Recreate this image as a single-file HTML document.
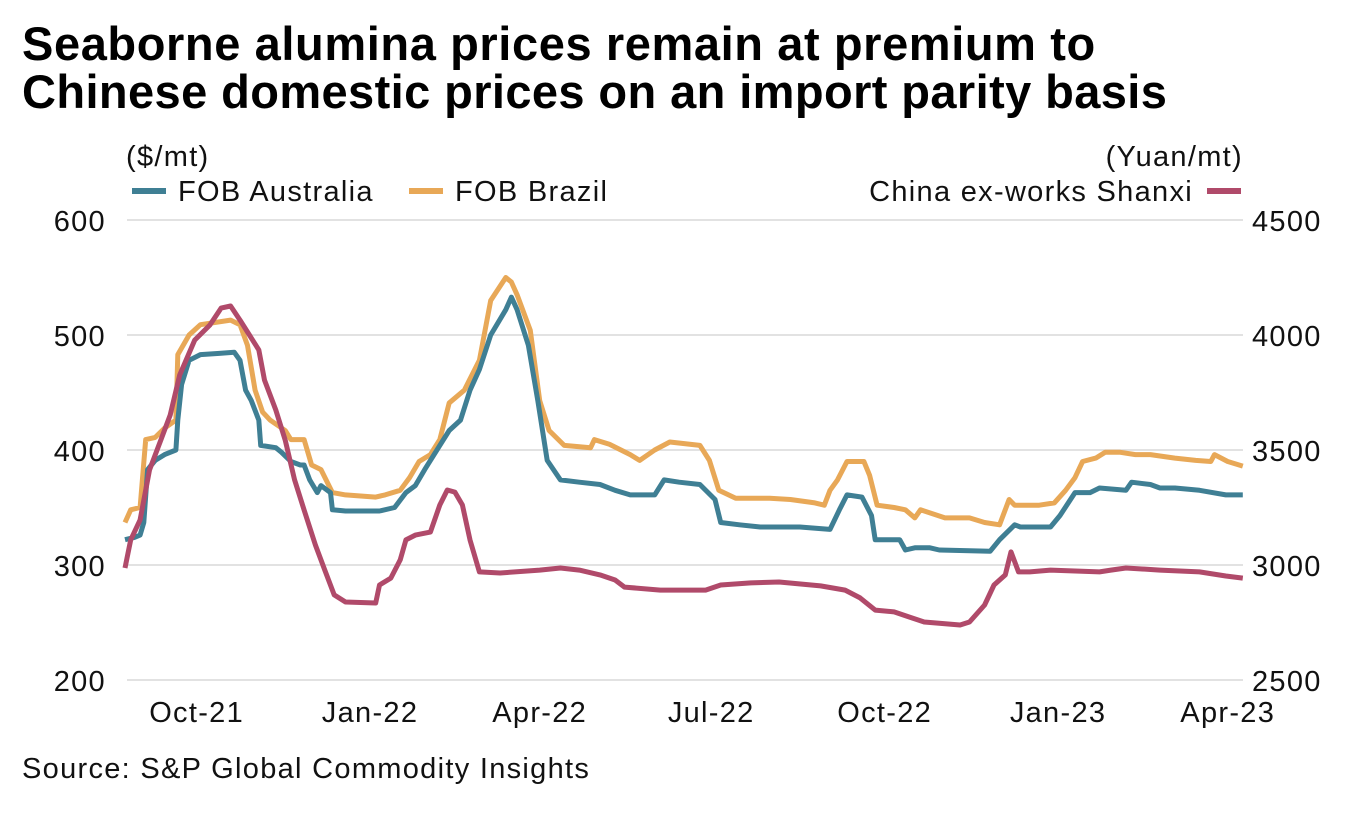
<!DOCTYPE html>
<html><head><meta charset="utf-8"><style>
body{margin:0;background:#fff;width:1364px;height:814px;overflow:hidden;font-family:"Liberation Sans",sans-serif;}
.t{font-size:29px;letter-spacing:1.3px;fill:#111;}
</style></head><body>
<svg width="1364" height="814" xmlns="http://www.w3.org/2000/svg" font-family="Liberation Sans, sans-serif">
<text x="22" y="60" font-size="47" letter-spacing="0.6" font-weight="bold" fill="#000">Seaborne alumina prices remain at premium to</text>
<text x="22" y="108" font-size="47" letter-spacing="0.4" font-weight="bold" fill="#000">Chinese domestic prices on an import parity basis</text>
<text class="t" x="126" y="166">($/mt)</text>
<text class="t" x="1243" y="166" text-anchor="end">(Yuan/mt)</text>
<g><line x1="132" y1="191" x2="166" y2="191" stroke="#3f7f94" stroke-width="6"/><text class="t" x="178" y="201">FOB Australia</text></g>
<g><line x1="409" y1="191" x2="443" y2="191" stroke="#e8a857" stroke-width="6"/><text class="t" x="455" y="201">FOB Brazil</text></g>
<g><text class="t" x="1193" y="201" text-anchor="end">China ex-works Shanxi</text><line x1="1207" y1="191" x2="1241" y2="191" stroke="#b04a6a" stroke-width="6"/></g>
<g id="grid"></g><g id="ticks"></g><g id="series"></g>
<text class="t" x="22" y="778">Source: S&amp;P Global Commodity Insights</text>
</svg>
<script>
const leftTicks=[200,300,400,500,600];
const rightTicks=[2500,3000,3500,4000,4500];
const xTickDays=[38,130,220,311,403,495,585];
const xTickLabels=["Oct-21","Jan-22","Apr-22","Jul-22","Oct-22","Jan-23","Apr-23"];
const ausDays=[0,5,8,10,12,16,21,27,28,30,34,40,50,58,61,64,67,71,72,80,83,88,93,95,98,102,104,109,110,117,135,143,149,154,159,167,172,178,183,188,194,202,205,208,214,219,224,231,241,252,260,268,281,286,294,305,313,316,326,337,358,374,379,383,391,396,398,411,414,419,427,432,459,464,472,475,491,496,504,512,517,531,534,544,549,557,570,584,593];
const ausVals=[322,324,326,337,383,391,396,400,426,457,478,483,484,485,478,452,443,426,404,402,398,390,387,387,374,363,369,363,348,347,347,350,363,369,383,404,417,426,452,470,500,522,533,522,491,443,391,374,372,370,365,361,361,374,372,370,357,337,335,333,333,331,348,361,359,343,322,322,313,315,315,313,312,322,335,333,333,343,363,363,367,365,372,370,367,367,365,361,361];
const braDays=[0,3,8,11,16,21,27,28,34,40,56,61,65,69,73,77,85,88,95,99,104,110,117,133,138,146,151,156,162,167,172,180,188,194,202,205,208,215,220,225,233,247,249,257,268,273,281,289,305,310,315,324,342,353,366,371,374,378,383,392,395,399,408,414,419,422,435,448,456,464,469,472,485,493,499,504,508,515,520,528,536,544,557,568,576,578,585,593];
const braVals=[337,348,350,409,411,419,426,483,500,509,513,509,491,452,433,426,417,409,409,387,383,363,361,359,361,365,376,390,396,409,441,452,478,530,550,546,535,504,443,417,404,402,409,405,396,391,400,407,404,391,365,358,358,357,354,352,365,374,390,390,378,352,350,348,341,348,341,341,337,335,357,352,352,354,365,376,390,393,398,398,396,396,393,391,390,396,390,386];
const shxDays=[0,3,8,13,19,24,29,37,45,51,56,61,66,71,74,80,85,90,95,101,106,111,117,133,135,141,146,149,154,162,167,171,175,179,183,188,199,220,231,241,252,260,265,284,308,316,332,347,369,382,390,398,408,416,424,443,448,456,461,467,470,474,480,491,517,523,531,549,570,584,593];
const shxVals=[2987,3109,3196,3413,3543,3652,3826,3978,4043,4117,4126,4065,4000,3935,3804,3674,3543,3370,3239,3087,2978,2870,2839,2835,2913,2943,3022,3109,3130,3143,3261,3326,3317,3261,3109,2970,2965,2978,2987,2978,2957,2935,2904,2891,2891,2913,2922,2926,2909,2891,2857,2804,2796,2774,2752,2739,2752,2826,2913,2957,3057,2970,2970,2978,2970,2978,2987,2978,2970,2952,2943];

const NS="http://www.w3.org/2000/svg";
const X0=125,PXD=1.885;
function xS(d){return X0+d*PXD;}
function yL(v){return 680-(v-200)*1.15;}
function yR(v){return 680-(v-2500)*0.23;}
function mk(tag,attrs,parent){const e=document.createElementNS(NS,tag);for(const k in attrs)e.setAttribute(k,attrs[k]);parent.appendChild(e);return e;}
const grid=document.getElementById('grid'),ticks=document.getElementById('ticks'),series=document.getElementById('series');
leftTicks.forEach((v,i)=>{
  const l=mk('line',{x1:127,x2:1243,y1:yL(v),y2:yL(v),stroke:'#d9d9d9','stroke-width':1.5},grid);
  
  
  const t=mk('text',{x:106,y:yL(v)+11,'class':'t','text-anchor':'end'},ticks);
  t.textContent=v;
  
  
});
rightTicks.forEach(v=>{
  const t=mk('text',{x:1252,y:yR(v)+11,'class':'t'},ticks);
  t.textContent=v;
  
  
});
xTickDays.forEach((d,i)=>{
  const t=mk('text',{x:xS(d),y:722,'class':'t','text-anchor':'middle'},ticks);
  t.textContent=xTickLabels[i];
  
  
});
function line(days,vals,yf,color,name){
  const pts=days.map((d,i)=>xS(d).toFixed(1)+','+yf(vals[i]).toFixed(1)).join(' ');
  const p=mk('polyline',{points:pts,fill:'none',stroke:color,'stroke-width':5,'stroke-linejoin':'round'},series);
  
  
}
line(braDays,braVals,yL,'#e8a857','series-fob-brazil');
line(ausDays,ausVals,yL,'#3f7f94','series-fob-australia');
line(shxDays,shxVals,yR,'#b04a6a','series-china-shanxi');
</script>
</body></html>
